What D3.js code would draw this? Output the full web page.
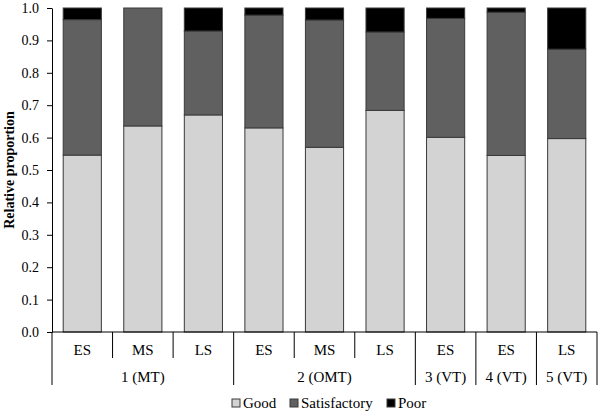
<!DOCTYPE html>
<html>
<head>
<meta charset="utf-8">
<script src="https://cdn.jsdelivr.net/npm/d3@7"></script>
<style>
  body { margin: 0; background: #fff; }
</style>
</head>
<body>
<div id="chart"></div>
<script>
// data
var stages = ['ES', 'MS', 'LS', 'ES', 'MS', 'LS', 'ES', 'ES', 'LS'];
var groups = ['1 (MT)', '2 (OMT)', '3 (VT)', '4 (VT)', '5 (VT)'];
var groupSizes = [3, 3, 1, 1, 1];
var good = [0.546, 0.636, 0.670, 0.630, 0.570, 0.684, 0.601, 0.545, 0.597];
var satisfactory = [0.418, 0.364, 0.259, 0.348, 0.393, 0.242, 0.367, 0.442, 0.276];
var poor = [0.036, 0.000, 0.071, 0.022, 0.037, 0.074, 0.032, 0.013, 0.127];
var seriesNames = ['Good', 'Satisfactory', 'Poor'];
var colors = ['#d3d3d3', '#606060', '#000000'];

var width = 600,
  height = 414,
  margin = {top: 8, right: 3, bottom: 82, left: 52},
  font = 'Liberation Serif';

var rows = stages.map(function (s, i) {
  return {i: i, Good: good[i], Satisfactory: satisfactory[i], Poor: poor[i]};
});

var svg = d3.select('#chart')
  .append('svg')
  .attr('width', width)
  .attr('height', height)
  .style('font-family', font);

var x = d3.scaleBand()
  .domain(d3.range(stages.length))
  .range([margin.left, width - margin.right])
  .paddingInner(0.37)
  .paddingOuter(0.185);

var y = d3.scaleLinear()
  .domain([0, 1])
  .range([height - margin.bottom, margin.top]);

var stack = d3.stack().keys(seriesNames);
var layers = stack(rows);

// bars
svg.append('g')
  .selectAll('g')
  .data(layers)
  .enter()
  .append('g')
  .attr('fill', function (d, i) { return colors[i]; })
  .selectAll('rect')
  .data(function (d) { return d; })
  .enter()
  .append('rect')
  .attr('x', function (d) { return x(d.data.i); })
  .attr('width', x.bandwidth())
  .attr('y', function (d) { return y(d[1]); })
  .attr('height', function (d) { return y(d[0]) - y(d[1]); })
  .attr('stroke', '#3a3a3a')
  .attr('stroke-width', 1);

// y axis
var yAxis = svg.append('g')
  .attr('transform', 'translate(' + margin.left + ',0)')
  .call(d3.axisLeft(y)
    .tickValues(d3.range(0, 1.01, 0.1))
    .tickFormat(d3.format('.1f'))
    .tickSize(5)
    .tickSizeOuter(0));

yAxis.attr('font-family', null).attr('font-size', null);
yAxis.selectAll('text')
  .style('font-family', font)
  .style('font-size', '14px')
  .attr('fill', '#000')
  .attr('dx', '-5');
yAxis.selectAll('line, path').attr('stroke', '#000');

svg.append('text')
  .attr('transform', 'translate(14,' + ((margin.top + height - margin.bottom) / 2) + ') rotate(-90)')
  .attr('text-anchor', 'middle')
  .style('font-family', font)
  .style('font-size', '14px')
  .style('font-weight', 'bold')
  .text('Relative proportion');

// x axis with two label levels
var y0 = height - margin.bottom,
  yShort = y0 + 26,
  yLong = y0 + 53,
  step = x.step(),
  xStart = margin.left;

var xAxis = svg.append('g');

xAxis.append('line')
  .attr('x1', xStart).attr('x2', width - margin.right)
  .attr('y1', y0).attr('y2', y0)
  .attr('stroke', '#000');

// group boundaries
var bounds = [0];
groupSizes.forEach(function (n, i) { bounds.push(bounds[i] + n); });

xAxis.selectAll('line.tick')
  .data(d3.range(stages.length + 1))
  .enter()
  .append('line')
  .attr('class', 'tick')
  .attr('x1', function (d) { return xStart + d * step; })
  .attr('x2', function (d) { return xStart + d * step; })
  .attr('y1', y0)
  .attr('y2', function (d) { return bounds.indexOf(d) >= 0 ? yLong : yShort; })
  .attr('stroke', '#000');

xAxis.selectAll('text.stage')
  .data(stages)
  .enter()
  .append('text')
  .attr('class', 'stage')
  .attr('x', function (d, i) { return x(i) + x.bandwidth() / 2; })
  .attr('y', y0 + 23)
  .attr('text-anchor', 'middle')
  .style('font-family', font)
  .style('font-size', '15px')
  .text(function (d) { return d; });

xAxis.selectAll('text.group')
  .data(groups)
  .enter()
  .append('text')
  .attr('class', 'group')
  .attr('x', function (d, i) { return xStart + (bounds[i] + bounds[i + 1]) / 2 * step; })
  .attr('y', y0 + 50)
  .attr('text-anchor', 'middle')
  .style('font-family', font)
  .style('font-size', '15px')
  .text(function (d) { return d; });

// legend
var legendX = [232, 290, 387];
var legend = svg.append('g')
  .selectAll('g')
  .data(seriesNames)
  .enter()
  .append('g')
  .attr('transform', function (d, i) { return 'translate(' + legendX[i] + ',' + 399 + ')'; });

legend.append('rect')
  .attr('width', 8)
  .attr('height', 8)
  .attr('fill', function (d, i) { return colors[i]; })
  .attr('stroke', '#3a3a3a');

legend.append('text')
  .attr('x', 11)
  .attr('y', 9)
  .style('font-family', font)
  .style('font-size', '15px')
  .text(function (d) { return d; });
</script>
</body>
</html>
